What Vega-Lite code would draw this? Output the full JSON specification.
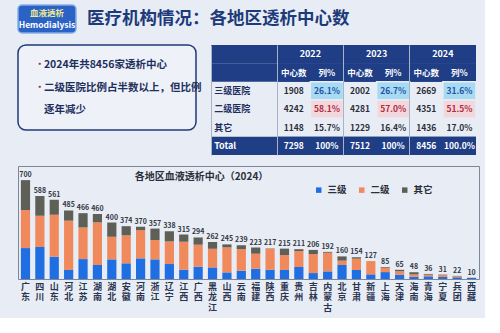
{
  "$schema": "https://vega.github.io/schema/vega-lite/v6.json",
  "background": "#e8edf5",
  "padding": {"left": 17, "top": 4, "right": 5, "bottom": 5},
  "config": {"font": "Noto Sans CJK SC", "concat": {"spacing": 10}, "view": {"stroke": null}},
  "datasets": {
    "badge": [{"part": "cn", "text": "血液透析"}, {"part": "en", "text": "Hemodialysis"}],
    "heading": [{"text": "医疗机构情况：各地区透析中心数"}],
    "bullets": [
      {"item": "a", "bullet": "yes", "text": "2024年共8456家透析中心"},
      {"item": "b", "bullet": "yes", "text": "二级医院比例占半数以上，但比例"},
      {"item": "c", "bullet": "no", "text": "逐年减少"}
    ],
    "table": [
      {"year": "", "row": "h1", "text": "", "kind": "headblank"},
      {"year": "", "row": "h2", "text": "", "kind": "headblank"},
      {"year": "", "row": "三级医院", "text": "三级医院", "kind": "label"},
      {"year": "", "row": "二级医院", "text": "二级医院", "kind": "label"},
      {"year": "", "row": "其它", "text": "其它", "kind": "label"},
      {"year": "", "row": "Total", "text": "Total", "kind": "totallabel"},
      {"year": "2022", "row": "h1", "text": "2022", "kind": "head"},
      {"year": "2023", "row": "h1", "text": "2023", "kind": "head"},
      {"year": "2024", "row": "h1", "text": "2024", "kind": "head"},
      {"year": "2022", "sub": "中心数", "row": "h2", "text": "中心数", "kind": "head"},
      {"year": "2022", "sub": "列%", "row": "h2", "text": "列%", "kind": "head"},
      {"year": "2023", "sub": "中心数", "row": "h2", "text": "中心数", "kind": "head"},
      {"year": "2023", "sub": "列%", "row": "h2", "text": "列%", "kind": "head"},
      {"year": "2024", "sub": "中心数", "row": "h2", "text": "中心数", "kind": "head"},
      {"year": "2024", "sub": "列%", "row": "h2", "text": "列%", "kind": "head"},
      {"year": "2022", "sub": "中心数", "row": "三级医院", "text": "1908", "kind": "plain"},
      {"year": "2022", "sub": "列%", "row": "三级医院", "text": "26.1%", "kind": "pctblue"},
      {"year": "2023", "sub": "中心数", "row": "三级医院", "text": "2002", "kind": "plain"},
      {"year": "2023", "sub": "列%", "row": "三级医院", "text": "26.7%", "kind": "pctblue"},
      {"year": "2024", "sub": "中心数", "row": "三级医院", "text": "2669", "kind": "plain"},
      {"year": "2024", "sub": "列%", "row": "三级医院", "text": "31.6%", "kind": "pctblue"},
      {"year": "2022", "sub": "中心数", "row": "二级医院", "text": "4242", "kind": "plain"},
      {"year": "2022", "sub": "列%", "row": "二级医院", "text": "58.1%", "kind": "pctpink"},
      {"year": "2023", "sub": "中心数", "row": "二级医院", "text": "4281", "kind": "plain"},
      {"year": "2023", "sub": "列%", "row": "二级医院", "text": "57.0%", "kind": "pctpink"},
      {"year": "2024", "sub": "中心数", "row": "二级医院", "text": "4351", "kind": "plain"},
      {"year": "2024", "sub": "列%", "row": "二级医院", "text": "51.5%", "kind": "pctpink"},
      {"year": "2022", "sub": "中心数", "row": "其它", "text": "1148", "kind": "plain"},
      {"year": "2022", "sub": "列%", "row": "其它", "text": "15.7%", "kind": "plain"},
      {"year": "2023", "sub": "中心数", "row": "其它", "text": "1229", "kind": "plain"},
      {"year": "2023", "sub": "列%", "row": "其它", "text": "16.4%", "kind": "plain"},
      {"year": "2024", "sub": "中心数", "row": "其它", "text": "1436", "kind": "plain"},
      {"year": "2024", "sub": "列%", "row": "其它", "text": "17.0%", "kind": "plain"},
      {"year": "2022", "sub": "中心数", "row": "Total", "text": "7298", "kind": "total"},
      {"year": "2022", "sub": "列%", "row": "Total", "text": "100%", "kind": "total"},
      {"year": "2023", "sub": "中心数", "row": "Total", "text": "7512", "kind": "total"},
      {"year": "2023", "sub": "列%", "row": "Total", "text": "100%", "kind": "total"},
      {"year": "2024", "sub": "中心数", "row": "Total", "text": "8456", "kind": "total"},
      {"year": "2024", "sub": "列%", "row": "Total", "text": "100.0%", "kind": "total"}
    ],
    "bars": [
      {"region": "广东", "level": "三级", "count": 219}, {"region": "广东", "level": "二级", "count": 269}, {"region": "广东", "level": "其它", "count": 212},
      {"region": "四川", "level": "三级", "count": 226}, {"region": "四川", "level": "二级", "count": 222}, {"region": "四川", "level": "其它", "count": 140},
      {"region": "山东", "level": "三级", "count": 158}, {"region": "山东", "level": "二级", "count": 297}, {"region": "山东", "level": "其它", "count": 106},
      {"region": "河北", "level": "三级", "count": 64}, {"region": "河北", "level": "二级", "count": 349}, {"region": "河北", "level": "其它", "count": 72},
      {"region": "江苏", "level": "三级", "count": 141}, {"region": "江苏", "level": "二级", "count": 224}, {"region": "江苏", "level": "其它", "count": 101},
      {"region": "湖南", "level": "三级", "count": 99}, {"region": "湖南", "level": "二级", "count": 302}, {"region": "湖南", "level": "其它", "count": 59},
      {"region": "湖北", "level": "三级", "count": 139}, {"region": "湖北", "level": "二级", "count": 160}, {"region": "湖北", "level": "其它", "count": 101},
      {"region": "安徽", "level": "三级", "count": 111}, {"region": "安徽", "level": "二级", "count": 198}, {"region": "安徽", "level": "其它", "count": 65},
      {"region": "河南", "level": "三级", "count": 146}, {"region": "河南", "level": "二级", "count": 200}, {"region": "河南", "level": "其它", "count": 24},
      {"region": "浙江", "level": "三级", "count": 139}, {"region": "浙江", "level": "二级", "count": 137}, {"region": "浙江", "level": "其它", "count": 81},
      {"region": "辽宁", "level": "三级", "count": 106}, {"region": "辽宁", "level": "二级", "count": 160}, {"region": "辽宁", "level": "其它", "count": 72},
      {"region": "江西", "level": "三级", "count": 66}, {"region": "江西", "level": "二级", "count": 198}, {"region": "江西", "level": "其它", "count": 51},
      {"region": "广西", "level": "三级", "count": 87}, {"region": "广西", "level": "二级", "count": 156}, {"region": "广西", "level": "其它", "count": 51},
      {"region": "黑龙江", "level": "三级", "count": 82}, {"region": "黑龙江", "level": "二级", "count": 132}, {"region": "黑龙江", "level": "其它", "count": 48},
      {"region": "山西", "level": "三级", "count": 47}, {"region": "山西", "level": "二级", "count": 177}, {"region": "山西", "level": "其它", "count": 21},
      {"region": "云南", "level": "三级", "count": 59}, {"region": "云南", "level": "二级", "count": 153}, {"region": "云南", "level": "其它", "count": 27},
      {"region": "福建", "level": "三级", "count": 73}, {"region": "福建", "level": "二级", "count": 106}, {"region": "福建", "level": "其它", "count": 44},
      {"region": "陕西", "level": "三级", "count": 66}, {"region": "陕西", "level": "二级", "count": 149}, {"region": "陕西", "level": "其它", "count": 2},
      {"region": "重庆", "level": "三级", "count": 64}, {"region": "重庆", "level": "二级", "count": 106}, {"region": "重庆", "level": "其它", "count": 45},
      {"region": "贵州", "level": "三级", "count": 85}, {"region": "贵州", "level": "二级", "count": 113}, {"region": "贵州", "level": "其它", "count": 13},
      {"region": "吉林", "level": "三级", "count": 42}, {"region": "吉林", "level": "二级", "count": 134}, {"region": "吉林", "level": "其它", "count": 30},
      {"region": "内蒙古", "level": "三级", "count": 54}, {"region": "内蒙古", "level": "二级", "count": 132}, {"region": "内蒙古", "level": "其它", "count": 6},
      {"region": "北京", "level": "三级", "count": 99}, {"region": "北京", "level": "二级", "count": 31}, {"region": "北京", "level": "其它", "count": 30},
      {"region": "甘肃", "level": "三级", "count": 64}, {"region": "甘肃", "level": "二级", "count": 80}, {"region": "甘肃", "level": "其它", "count": 10},
      {"region": "新疆", "level": "三级", "count": 33}, {"region": "新疆", "level": "二级", "count": 94}, {"region": "新疆", "level": "其它", "count": 0},
      {"region": "上海", "level": "三级", "count": 49}, {"region": "上海", "level": "二级", "count": 31}, {"region": "上海", "level": "其它", "count": 5},
      {"region": "天津", "level": "三级", "count": 31}, {"region": "天津", "level": "二级", "count": 24}, {"region": "天津", "level": "其它", "count": 10},
      {"region": "海南", "level": "三级", "count": 16}, {"region": "海南", "level": "二级", "count": 17}, {"region": "海南", "level": "其它", "count": 15},
      {"region": "青海", "level": "三级", "count": 19}, {"region": "青海", "level": "二级", "count": 12}, {"region": "青海", "level": "其它", "count": 5},
      {"region": "宁夏", "level": "三级", "count": 14}, {"region": "宁夏", "level": "二级", "count": 14}, {"region": "宁夏", "level": "其它", "count": 3},
      {"region": "兵团", "level": "三级", "count": 12}, {"region": "兵团", "level": "二级", "count": 8}, {"region": "兵团", "level": "其它", "count": 2},
      {"region": "西藏", "level": "三级", "count": 8}, {"region": "西藏", "level": "二级", "count": 2}, {"region": "西藏", "level": "其它", "count": 0}
    ]
  },
  "vconcat": [
    {
      "spacing": 10,
      "hconcat": [
        {
          "width": 58, "height": 28,
          "view": {"fill": "#2a62c6", "stroke": "#86aee8", "strokeWidth": 1.5, "cornerRadius": 4},
          "data": {"name": "badge"},
          "mark": {"type": "text", "fontSize": 8.5, "fontWeight": "bold"},
          "encoding": {
            "y": {"field": "part", "type": "nominal", "sort": ["cn", "en"], "axis": null, "scale": {"padding": 0.6}},
            "text": {"field": "text"},
            "color": {"condition": {"test": "datum.part == 'cn'", "value": "#f1e98e"}, "value": "#ffffff"}
          }
        },
        {
          "width": 380, "height": 28,
          "data": {"name": "heading"},
          "mark": {"type": "text", "align": "left", "fontSize": 17.5, "fontWeight": "bold", "color": "#1d3a7a"},
          "encoding": {
            "x": {"datum": 0, "type": "quantitative", "scale": {"domain": [0, 1]}, "axis": null},
            "text": {"field": "text"}
          }
        }
      ]
    },
    {
      "spacing": 8,
      "hconcat": [
        {
          "width": 178, "height": 85,
          "view": {"stroke": "#1e3a78", "strokeWidth": 1.5, "cornerRadius": 8, "fill": "#eef2f8"},
          "data": {"name": "bullets"},
          "encoding": {
            "y": {"field": "item", "type": "nominal", "sort": ["a", "b", "c"], "axis": null, "scale": {"padding": 0.9}}
          },
          "layer": [
            {
              "transform": [{"filter": "datum.bullet == 'yes'"}],
              "mark": {"type": "text", "align": "left", "fontSize": 11, "color": "#a8323f", "text": "•"},
              "encoding": {"x": {"datum": 0, "type": "quantitative", "scale": {"domain": [-0.03, 1]}, "axis": null}}
            },
            {
              "mark": {"type": "text", "align": "left", "fontSize": 10.5, "fontWeight": "bold", "color": "#1e2f5e"},
              "encoding": {
                "x": {"datum": 0.06, "type": "quantitative"},
                "text": {"field": "text"}
              }
            }
          ]
        },
        {
          "width": 265, "height": 110,
          "data": {"name": "table"},
          "encoding": {
            "x": {"field": "year", "type": "nominal", "sort": ["", "2022", "2023", "2024"], "scale": {"paddingInner": 0, "paddingOuter": 0},
                  "axis": {"title": null, "labels": false, "ticks": false, "domain": false, "grid": true, "gridColor": "#a9b3c6", "bandPosition": 0}},
            "y": {"field": "row", "type": "nominal", "sort": ["h1", "h2", "三级医院", "二级医院", "其它", "Total"],
                  "scale": {"paddingInner": 0, "paddingOuter": 0}, "axis": null}
          },
          "layer": [
            {
              "transform": [{"filter": "datum.kind == 'head' || datum.kind == 'total' || datum.kind == 'headblank' || datum.kind == 'totallabel'"}],
              "mark": {"type": "rect", "color": "#1f3e86"}
            },
            {
              "transform": [{"filter": "datum.kind == 'pctblue'"}],
              "mark": {"type": "rect", "color": "#a8daf3", "stroke": "#e8edf5", "strokeWidth": 1.5},
              "encoding": {"xOffset": {"field": "sub", "type": "nominal", "sort": ["中心数", "列%"]}}
            },
            {
              "transform": [{"filter": "datum.kind == 'pctpink'"}],
              "mark": {"type": "rect", "color": "#f2d8dc", "stroke": "#e8edf5", "strokeWidth": 1.5},
              "encoding": {"xOffset": {"field": "sub", "type": "nominal", "sort": ["中心数", "列%"]}}
            },
            {
              "transform": [{"filter": "datum.kind == 'head' && datum.row == 'h1'"}],
              "mark": {"type": "text", "fontSize": 9, "fontWeight": 600, "color": "#ffffff"},
              "encoding": {"text": {"field": "text"}}
            },
            {
              "transform": [{"filter": "datum.kind == 'label' || datum.kind == 'totallabel'"}],
              "mark": {"type": "text", "align": "left", "dx": -30, "fontSize": 9, "fontWeight": 600},
              "encoding": {
                "text": {"field": "text"},
                "color": {"condition": {"test": "datum.kind == 'totallabel'", "value": "#ffffff"}, "value": "#1e2f5e"}
              }
            },
            {
              "transform": [{"filter": "datum.row != 'h1' && datum.year != ''"}],
              "mark": {"type": "text", "fontSize": 8.5, "fontWeight": 600},
              "encoding": {
                "xOffset": {"field": "sub", "type": "nominal", "sort": ["中心数", "列%"]},
                "text": {"field": "text"},
                "color": {"condition": [
                  {"test": "datum.kind == 'head' || datum.kind == 'total'", "value": "#ffffff"},
                  {"test": "datum.kind == 'pctblue'", "value": "#1f56a8"},
                  {"test": "datum.kind == 'pctpink'", "value": "#b52a3c"}
                ], "value": "#2b2f3a"}
              }
            }
          ]
        }
      ]
    },
    {
      "width": 461, "height": 113,
      "data": {"name": "bars"},
      "view": {"stroke": "#7d8799", "strokeWidth": 1},
      "title": {"text": "各地区血液透析中心（2024）", "fontSize": 10, "fontWeight": "bold", "color": "#2b2f3a", "anchor": "middle", "dx": -47, "offset": -16},
      "encoding": {
        "x": {"field": "region", "type": "nominal",
              "sort": ["广东","四川","山东","河北","江苏","湖南","湖北","安徽","河南","浙江","辽宁","江西","广西","黑龙江","山西","云南","福建","陕西","重庆","贵州","吉林","内蒙古","北京","甘肃","新疆","上海","天津","海南","青海","宁夏","兵团","西藏"],
              "scale": {"paddingInner": 0.36, "paddingOuter": 0.2},
              "axis": {"title": null, "labelAngle": 0, "labelExpr": "split(datum.label, '')", "labelFontSize": 9, "labelLineHeight": 10.5,
                       "labelColor": "#2b3550", "labelFontWeight": "bold", "ticks": false, "domain": false, "labelPadding": 3}}
      },
      "layer": [
        {
          "mark": {"type": "bar"},
          "encoding": {
            "y": {"field": "count", "type": "quantitative", "stack": "zero", "scale": {"domain": [0, 800]}, "axis": null},
            "order": {"field": "level", "sort": "ascending"},
            "color": {"field": "level", "type": "nominal",
                      "scale": {"domain": ["三级", "二级", "其它"], "range": ["#1f6fe3", "#f0895c", "#5e6058"]},
                      "legend": {"orient": "none", "legendX": 296, "legendY": 180, "direction": "horizontal", "title": null,
                                 "symbolType": "square", "symbolSize": 30, "labelFontSize": 9.5, "labelFontWeight": "bold",
                                 "labelColor": "#2b2f3a", "columnPadding": 10, "symbolStrokeWidth": 0}}
          }
        },
        {
          "mark": {"type": "text", "dy": -5, "fontSize": 7, "fontWeight": 600, "color": "#333844"},
          "encoding": {
            "y": {"aggregate": "sum", "field": "count", "type": "quantitative"},
            "text": {"aggregate": "sum", "field": "count", "type": "quantitative"}
          }
        }
      ]
    }
  ]
}
